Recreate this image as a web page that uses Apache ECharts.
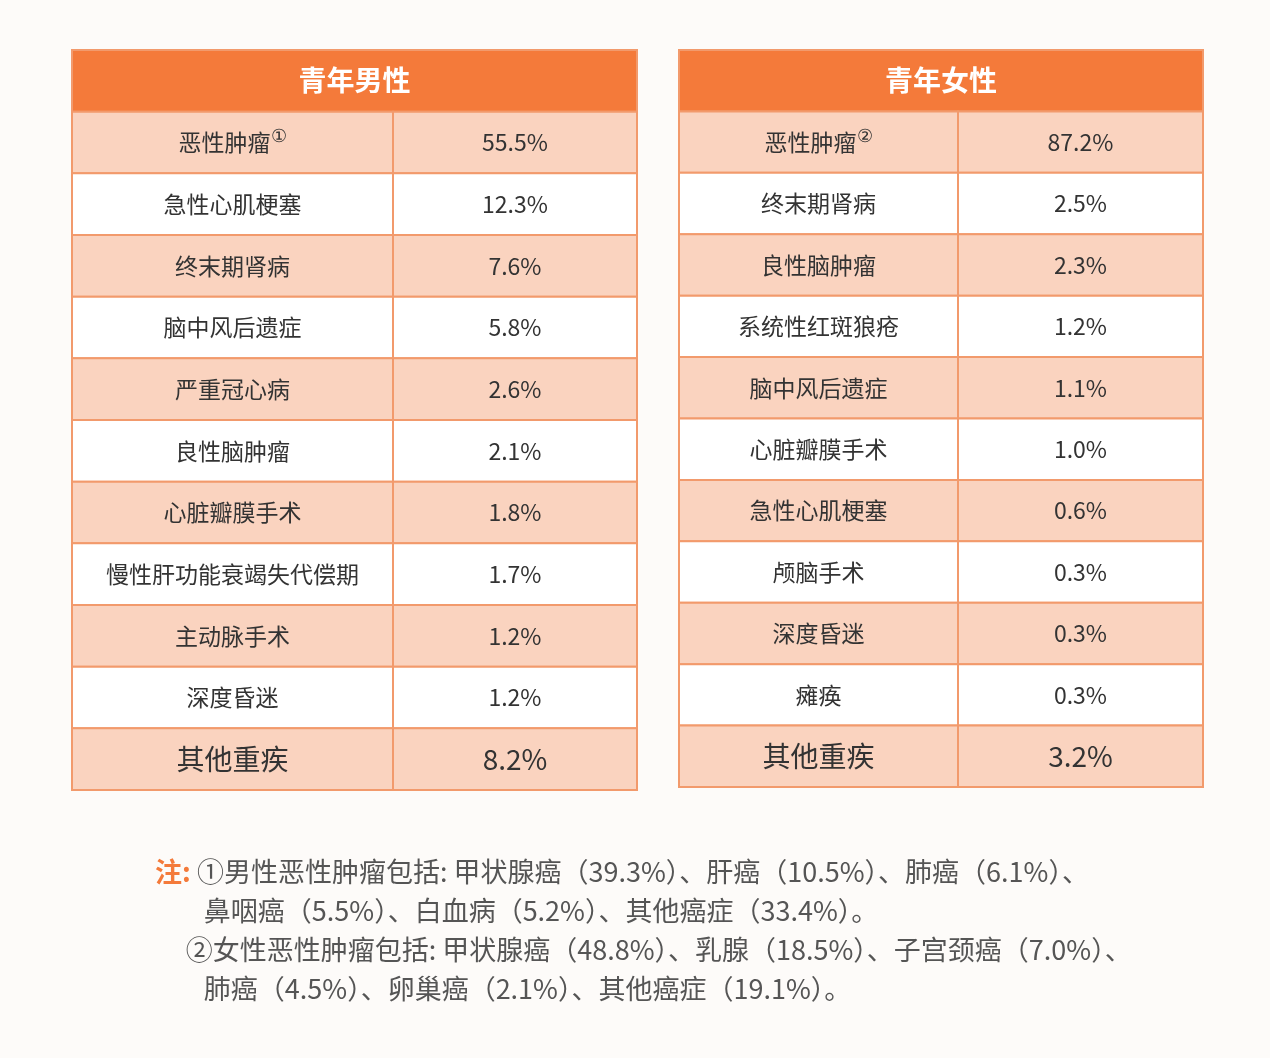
<!DOCTYPE html>
<html>
<head>
<meta charset="utf-8">
<script src="https://cdn.jsdelivr.net/npm/echarts@6/dist/echarts.min.js"></script>
<style>
html,body{margin:0;padding:0;background:#fdfbf9;}
#main{width:1270px;height:1058px;}
</style>
</head>
<body>
<div id="main"></div>
<script>
// 数据
var maleTitle = '青年男性';
var maleNames = ['恶性肿瘤{s|①}', '急性心肌梗塞', '终末期肾病', '脑中风后遗症', '严重冠心病', '良性脑肿瘤', '心脏瓣膜手术', '慢性肝功能衰竭失代偿期', '主动脉手术', '深度昏迷', '其他重疾'];
var maleValues = ['55.5%', '12.3%', '7.6%', '5.8%', '2.6%', '2.1%', '1.8%', '1.7%', '1.2%', '1.2%', '8.2%'];
var femaleTitle = '青年女性';
var femaleNames = ['恶性肿瘤{s|②}', '终末期肾病', '良性脑肿瘤', '系统性红斑狼疮', '脑中风后遗症', '心脏瓣膜手术', '急性心肌梗塞', '颅脑手术', '深度昏迷', '瘫痪', '其他重疾'];
var femaleValues = ['87.2%', '2.5%', '2.3%', '1.2%', '1.1%', '1.0%', '0.6%', '0.3%', '0.3%', '0.3%', '3.2%'];
var notes = [
    ['注: ', '①男性恶性肿瘤包括: 甲状腺癌（39.3%）、肝癌（10.5%）、肺癌（6.1%）、'],
    ['', '   鼻咽癌（5.5%）、白血病（5.2%）、其他癌症（33.4%）。'],
    ['', '②女性恶性肿瘤包括: 甲状腺癌（48.8%）、乳腺（18.5%）、子宫颈癌（7.0%）、'],
    ['', '   肺癌（4.5%）、卵巢癌（2.1%）、其他癌症（19.1%）。']
];

var FONT = '"Noto Sans CJK SC", sans-serif';
var rowKeys = ['h','0','1','2','3','4','5','6','7','8','9','10'];

function buildCells(title, names, values, split){
    var cells = [[0, 1, 0, title, 'h']];
    for(let i in names){
        cells.push([0, split, +i + 1, names[i], 'n']);
        cells.push([split, 1, +i + 1, values[i], 'v']);
    }
    return cells;
}
var tables = [
    buildCells(maleTitle, maleNames, maleValues, 321 / 565),
    buildCells(femaleTitle, femaleNames, femaleValues, 279 / 524)
];

function renderCell(params, api){
    var cell = tables[params.seriesIndex][params.dataIndex];
    var x0 = api.value(0), x1 = api.value(1), row = api.value(2);
    var p0 = api.coord([x0, row]);
    var p1 = api.coord([x1, row]);
    var h = api.size([0, 1])[1];
    var kind = cell[4];
    var fill = kind == 'h' ? '#f47a3a' : (row % 2 == 1 ? '#fad3bf' : '#ffffff');
    var last = row == 11;
    return {
        type: 'group',
        children: [{
            type: 'rect',
            shape: {x: p0[0], y: p0[1] - h / 2, width: p1[0] - p0[0], height: h},
            style: {fill: fill, stroke: '#f29a6c', lineWidth: 2}
        }, {
            type: 'text',
            x: (p0[0] + p1[0]) / 2,
            y: p0[1],
            style: {
                text: cell[3],
                align: 'center',
                verticalAlign: 'middle',
                fontFamily: FONT,
                fontSize: kind == 'h' ? 28 : (last ? 28 : 23),
                fontWeight: kind == 'h' ? 'bold' : 'normal',
                fill: kind == 'h' ? '#ffffff' : '#333333',
                rich: {s: {fontSize: 18, fill: '#333', verticalAlign: 'top', padding: [0, 0, 10, 0]}}
            }
        }]
    };
}

var chart = echarts.init(document.getElementById('main'));
chart.setOption({
    backgroundColor: '#fdfbf9',
    animation: false,
    grid: [
        {left: 72, top: 50, width: 565, height: 740},
        {left: 679, top: 50, width: 524, height: 737}
    ],
    xAxis: [0, 1].map(function(i){ return {gridIndex: i, type: 'value', min: 0, max: 1, show: false}; }),
    yAxis: [0, 1].map(function(i){ return {gridIndex: i, type: 'category', data: rowKeys, inverse: true, show: false}; }),
    series: [0, 1].map(function(i){
        return {
            type: 'custom', xAxisIndex: i, yAxisIndex: i,
            renderItem: renderCell,
            encode: {x: [0, 1], y: 2},
            data: tables[i].map(function(c){ return [c[0], c[1], c[2]]; })
        };
    }),
    graphic: notes.map(function(n, i){
        return {
            type: 'text', left: 155, top: 858 + i * 39,
            style: {
                text: (n[0] ? '{o|' + n[0] + '}' : '{o|     }') + n[1],
                fontFamily: FONT, fontSize: 27, fill: '#555555',
                rich: {o: {fill: '#f47a3a', fontWeight: 'bold', fontSize: 27, fontFamily: FONT}}
            }
        };
    })
});
</script>
</body>
</html>
